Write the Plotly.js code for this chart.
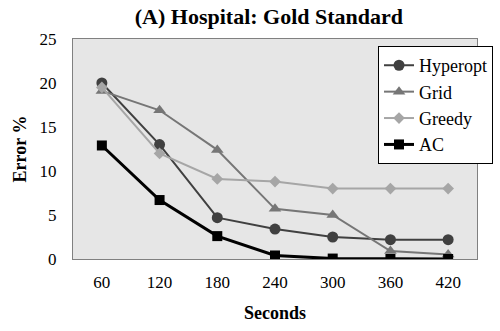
<!DOCTYPE html>
<html>
<head>
<meta charset="utf-8">
<script src="https://cdn.plot.ly/plotly-3.0.1.min.js"></script>
<style>
  body { margin: 0; background: #fff; }
  #chart { width: 500px; height: 331px; }
</style>
</head>
<body>
<div id="chart"></div>
<script>
// values
var seconds = ["60", "120", "180", "240", "300", "360", "420"]
var hyperopt = [20.0, 13.0, 4.7, 3.4, 2.5, 2.2, 2.2]
var grid = [19.1, 16.9, 12.4, 5.7, 5.0, 0.9, 0.5]
var greedy = [19.5, 12.0, 9.1, 8.8, 8.0, 8.0, 8.0]
var ac = [12.9, 6.7, 2.6, 0.4, 0.05, 0.0, 0.0]

var serif = "'Liberation Serif', 'Times New Roman', serif"

function series(name, y, color, symbol, size, width) {
    return {
        x: seconds,
        y: y,
        name: name,
        type: "scatter",
        mode: "lines+markers",
        line: {color: color, width: width},
        marker: {color: color, symbol: symbol, size: size}
    }
}

var data = [
    series("Hyperopt", hyperopt, "#404040", "circle", 11, 2),
    series("Grid", grid, "#767676", "triangle-up", 11, 2),
    series("Greedy", greedy, "#a6a6a6", "diamond", 9, 2),
    series("AC", ac, "#000000", "square", 10, 3)
]

var layout = {
    width: 500,
    height: 331,
    margin: {l: 73, r: 7, t: 39, b: 72},
    paper_bgcolor: "#ffffff",
    plot_bgcolor: "#e6e6e6",
    font: {family: serif, size: 17, color: "#000"},
    title: {
        text: "<b>(A) Hospital: Gold Standard</b>",
        font: {family: serif, size: 22, color: "#000"},
        xref: "paper", x: 0.485, xanchor: "center",
        yref: "container", y: 0.95, yanchor: "middle"
    },
    xaxis: {
        type: "category",
        range: [-0.5, 6.5],
        showgrid: false,
        zeroline: false,
        showline: true, mirror: true, linecolor: "#808080", linewidth: 1,
        ticks: "",
        ticklabelstandoff: 8,
        tickfont: {family: serif, size: 17},
        title: {text: "<b>Seconds</b>", font: {family: serif, size: 18}, standoff: 14}
    },
    yaxis: {
        range: [0, 25],
        dtick: 5,
        showgrid: false,
        zeroline: false,
        showline: true, mirror: true, linecolor: "#808080", linewidth: 1,
        ticks: "",
        ticklabelstandoff: 12,
        tickfont: {family: serif, size: 17},
        title: {text: "<b>Error %</b>", font: {family: serif, size: 18}, standoff: 8}
    },
    showlegend: true,
    legend: {
        x: 0.755, y: 0.968, xanchor: "left", yanchor: "top",
        bgcolor: "#ffffff", bordercolor: "#000000", borderwidth: 1,
        font: {family: serif, size: 18},
        itemwidth: 30,
        tracegroupgap: 0
    }
}

Plotly.newPlot("chart", data, layout, {displayModeBar: false, staticPlot: true})
</script>
</body>
</html>
